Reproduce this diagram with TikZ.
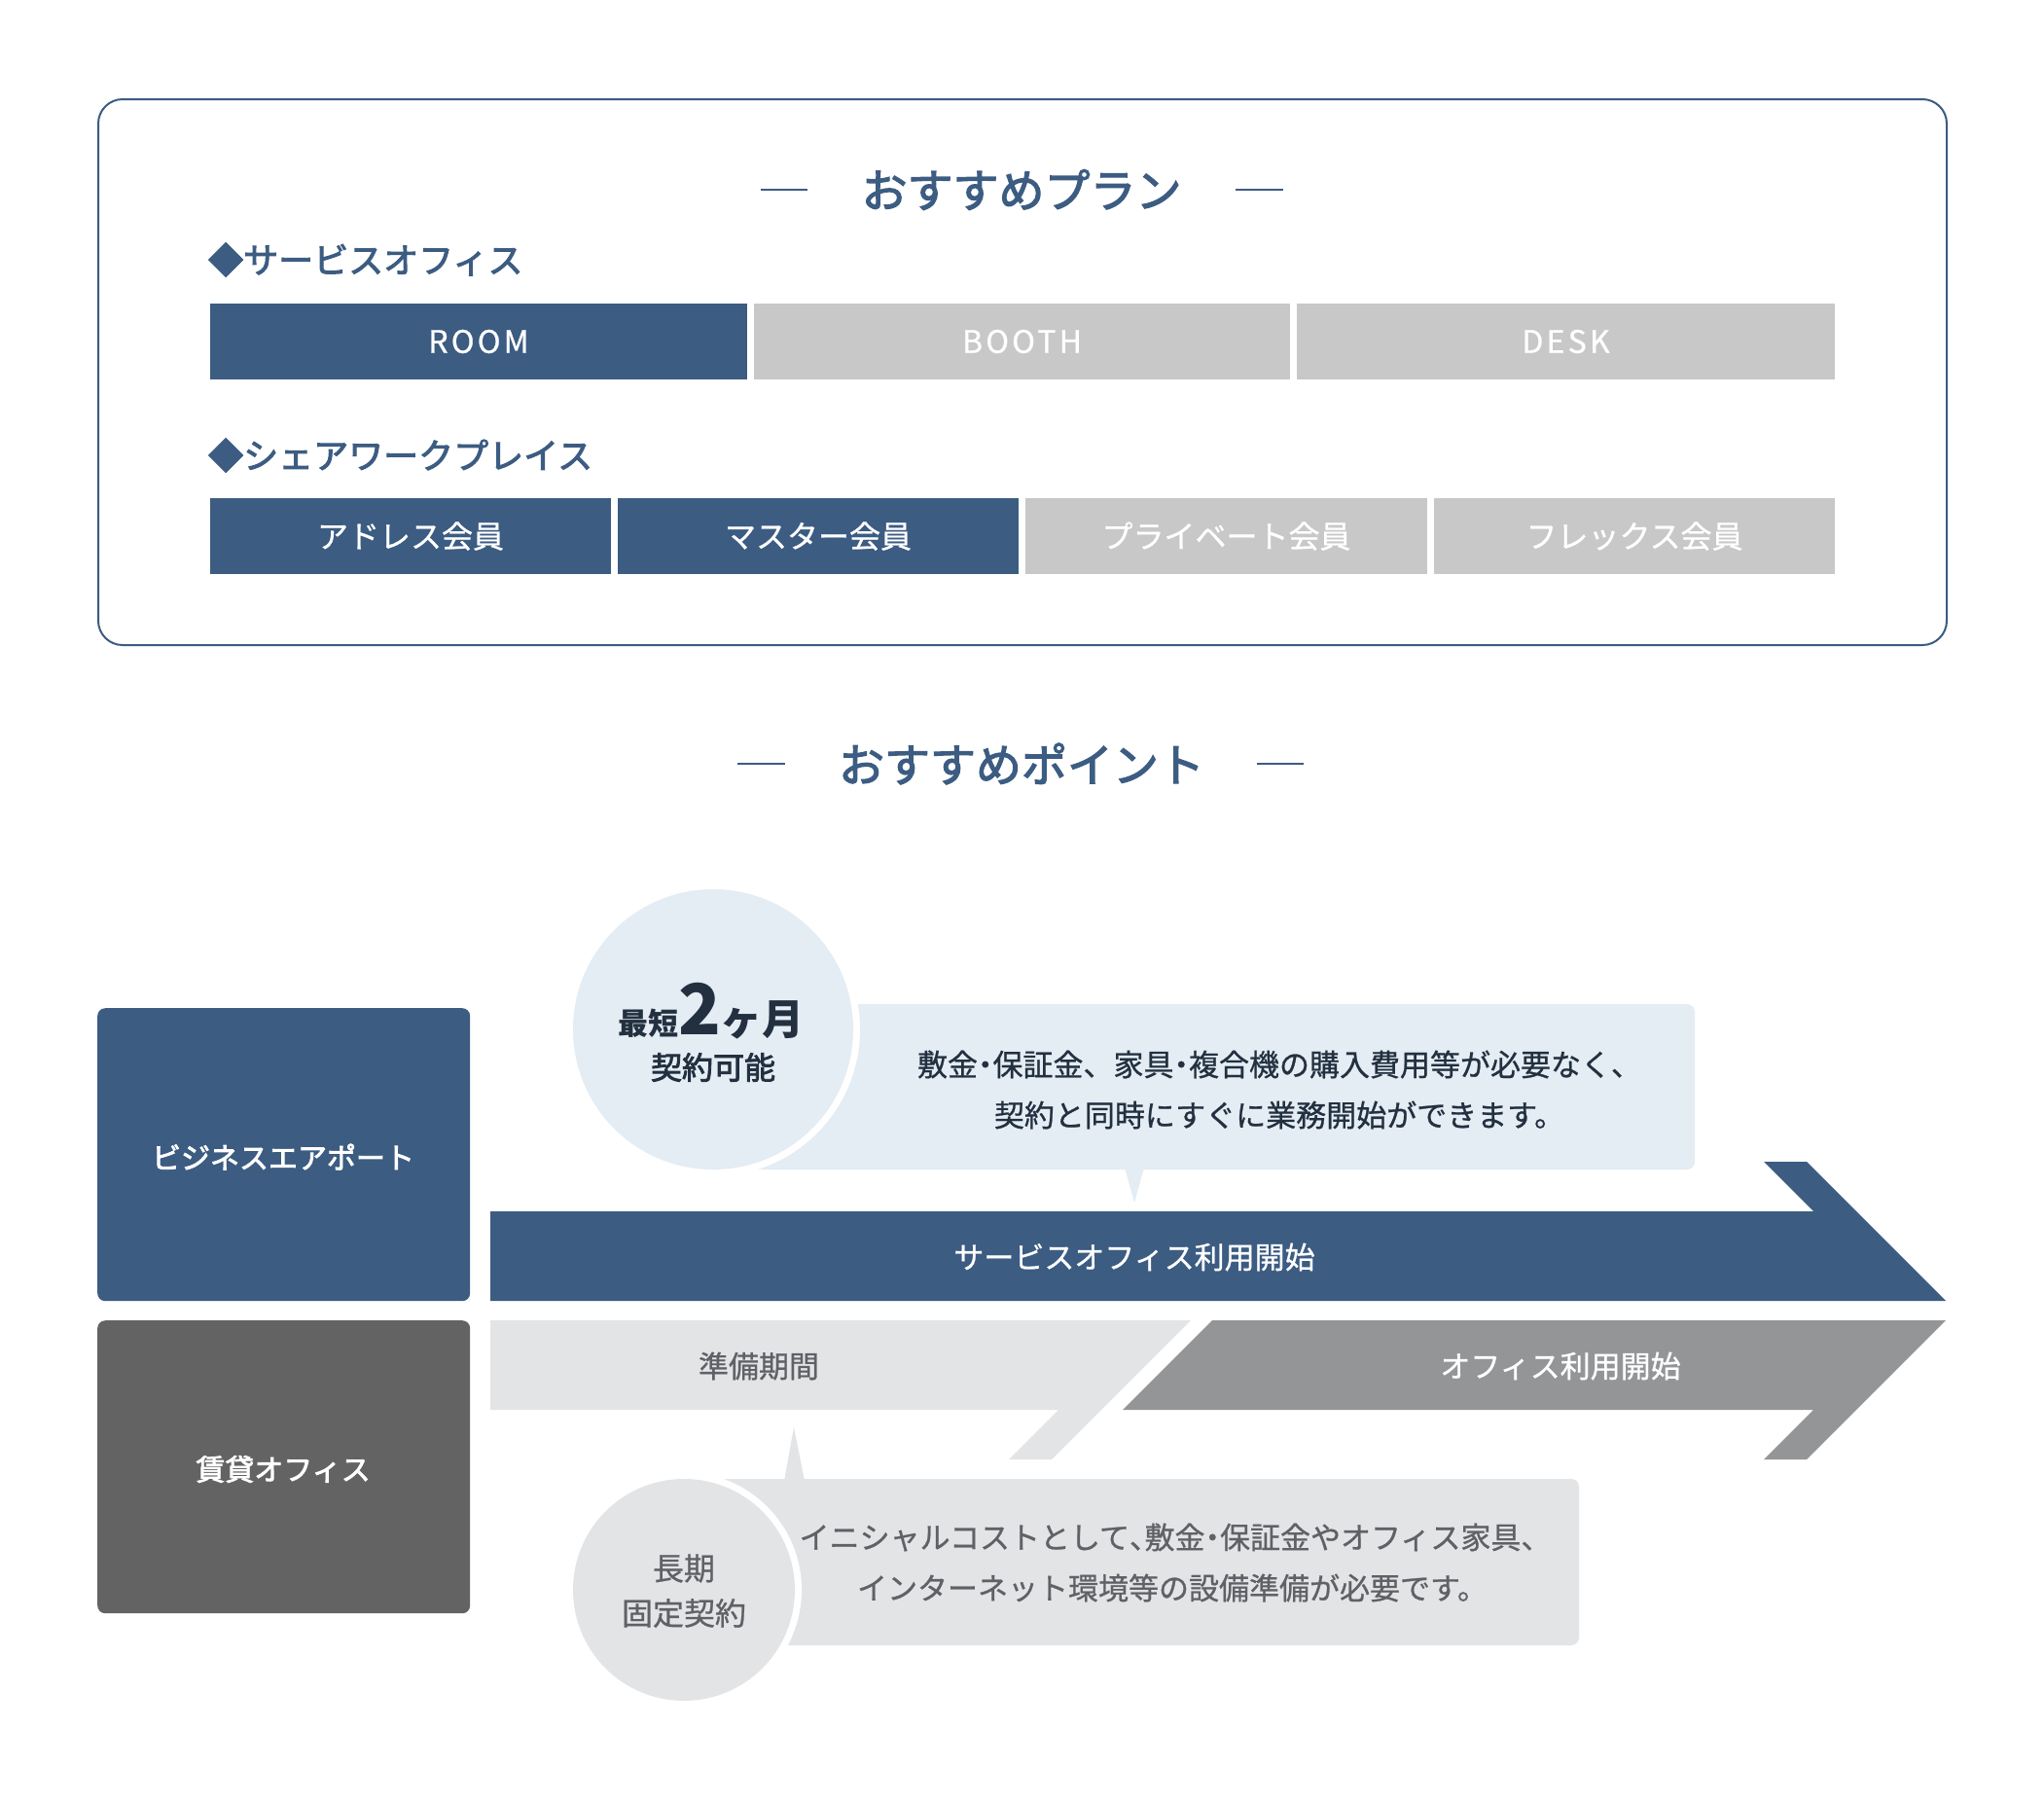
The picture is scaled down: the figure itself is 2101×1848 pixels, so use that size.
\documentclass[tikz,border=0pt]{standalone}
\usepackage{fontspec}
\setmainfont{Noto Sans CJK JP}
\newfontfamily\medf[FakeBold=0.8]{Noto Sans CJK JP}
\newfontfamily\semif[FakeBold=2.6]{Noto Sans CJK JP}
\newfontfamily\latsp[LetterSpace=10,FakeBold=0.8]{Noto Sans CJK JP}
\newcommand\fsz[1]{\fontsize{#1}{#1}\selectfont}
\newcommand\nkdot{{\addfontfeature{RawFeature=+halt}・}}
\newcommand\nkcomma{{\addfontfeature{RawFeature=+halt}、}}
\definecolor{navy}{HTML}{3C5C82}
\definecolor{graybar}{HTML}{C8C8C8}
\definecolor{lightblue}{HTML}{E4ECF4}
\definecolor{lightgray}{HTML}{E3E4E6}
\definecolor{darkgray}{HTML}{949597}
\definecolor{boxgray}{HTML}{636363}
\definecolor{darktext}{HTML}{22303F}
\definecolor{graytext}{HTML}{5F6166}
\tikzset{
  barbox/.style={draw=none, inner sep=0pt, outer sep=0pt, minimum height=78pt, text=white, anchor=north west},
  bartxt/.style={font=\medf\fsz{32}},
  headtxt/.style={text=navy, inner sep=0pt, font=\semif\fsz{47}},
  labeltxt/.style={text=navy, inner sep=0pt, anchor=west, font=\semif\fsz{36}},
  dashline/.style={navy, line width=2.5pt},
  sidebox/.style={draw=none, rounded corners=8pt, inner sep=0pt, minimum width=383pt, minimum height=301pt, anchor=north west},
  sidetxt/.style={text=white, inner sep=0pt, font=\semif\fsz{30}},
  bubbletxt/.style={inner sep=0pt, font=\medf\fsz{31}},
}
\begin{document}
\begin{tikzpicture}[x=1pt,y=-1pt]
\useasboundingbox[fill=white] (0,0) rectangle (2101,1848);

% ---------- top frame ----------
\node[draw=navy, line width=2pt, rounded corners=25pt, minimum width=1900pt, minimum height=561pt, anchor=north west, inner sep=0pt] (frame) at (100,101) {};
\node[headtxt] (plan) at (1050,195) {おすすめプラン};
\draw[dashline] (782,195) -- (830,195);
\draw[dashline] (1270,195) -- (1319,195);

\node[labeltxt] (lab1) at (214,267) {◆サービスオフィス};
\node[barbox, fill=navy, minimum width=552pt] (room) at (216,312) {};
\node[barbox, fill=graybar, minimum width=551pt] (booth) at (775,312) {};
\node[barbox, fill=graybar, minimum width=553pt] (desk) at (1333,312) {};
\node[text=white, font=\latsp\fsz{32}] at (room.center) {ROOM};
\node[text=white, font=\latsp\fsz{32}] at (booth.center) {BOOTH};
\node[text=white, font=\latsp\fsz{32}] at (desk.center) {DESK};

\node[labeltxt] (lab2) at (214,468) {◆シェアワークプレイス};
\node[barbox, fill=navy, minimum width=412pt] (addr) at (216,512) {};
\node[barbox, fill=navy, minimum width=412pt] (mast) at (635,512) {};
\node[barbox, fill=graybar, minimum width=413pt] (priv) at (1054,512) {};
\node[barbox, fill=graybar, minimum width=412pt] (flex) at (1474,512) {};
\node[text=white, bartxt] at (addr.center) {アドレス会員};
\node[text=white, bartxt] at (mast.center) {マスター会員};
\node[text=white, bartxt] at (priv.center) {プライベート会員};
\node[text=white, bartxt] at (flex.center) {フレックス会員};

% ---------- points ----------
\node[headtxt] (point) at (1050,785) {おすすめポイント};
\draw[dashline] (758,785) -- (807,785);
\draw[dashline] (1292,785) -- (1340,785);

\node[sidebox, fill=navy] (biz) at (100,1036) {};
\node[sidetxt] (biztxt) at (291,1189) {ビジネスエアポート};
\node[sidebox, fill=boxgray] (rent) at (100,1357) {};
\node[sidetxt] (renttxt) at (291,1510) {賃貸オフィス};

% blue arrow
\fill[navy] (504,1245) -- (1864,1245) -- (1813,1194) -- (1857,1194) -- (2000,1337) -- (504,1337) -- cycle;
\node[text=white, bubbletxt] (svc) at (1166,1292) {サービスオフィス利用開始};

% light gray arrow
\fill[lightgray] (504,1357) -- (1224,1357) -- (1081,1500) -- (1037,1500) -- (1088,1449) -- (504,1449) -- cycle;
\node[text=graytext, font=\medf\fsz{31}, inner sep=0pt] (prep) at (780,1404) {準備期間};

% dark gray arrow
\fill[darkgray] (1246,1357) -- (2000,1357) -- (1857,1500) -- (1813,1500) -- (1864,1449) -- (1154,1449) -- cycle;
\node[text=white, bubbletxt] (ofc) at (1604,1404) {オフィス利用開始};

% bubble 1
\fill[lightblue, rounded corners=8pt] (733,1032) rectangle (1742,1202);
\fill[lightblue] (1156,1200) -- (1176,1200) -- (1166,1236) -- cycle;
\node[circle, fill=white, minimum size=302pt, inner sep=0pt] (ring1) at (733,1058) {};
\node[circle, fill=lightblue, minimum size=288pt, inner sep=0pt] (circ1) at (733,1058) {};
\node[anchor=base, text=darktext, inner sep=0pt] (short) at (731,1063) {\bfseries\fsz{31}最短\fsz{72}2\fsz{43}ヶ月};
\node[text=darktext, font=\semif\fsz{32}, inner sep=0pt] (kanou) at (733,1097) {契約可能};
\node[text=darktext, bubbletxt] (b1a) at (1315,1094) {敷金\nkdot 保証金、家具\nkdot 複合機の購入費用等が必要なく、};
\node[text=darktext, bubbletxt] (b1b) at (1315,1146) {契約と同時にすぐに業務開始ができます。};

% bubble 2
\fill[lightgray, rounded corners=8pt] (703,1520) rectangle (1623,1691);
\fill[lightgray] (806,1522) -- (827,1522) -- (816,1467) -- cycle;
\node[circle, fill=white, minimum size=242pt, inner sep=0pt] (ring2) at (703,1634) {};
\node[circle, fill=lightgray, minimum size=228pt, inner sep=0pt] (circ2) at (703,1634) {};
\node[text=graytext, font=\medf\fsz{32}, inner sep=0pt] (c2a) at (703,1612) {長期};
\node[text=graytext, font=\medf\fsz{32}, inner sep=0pt] (c2b) at (703,1658) {固定契約};
\node[text=graytext, bubbletxt] (b2a) at (1208,1580) {イニシャルコストとして\nkcomma 敷金\nkdot 保証金やオフィス家具、};
\node[text=graytext, bubbletxt] (b2b) at (1205,1632) {インターネット環境等の設備準備が必要です。};
\end{tikzpicture}
\end{document}
